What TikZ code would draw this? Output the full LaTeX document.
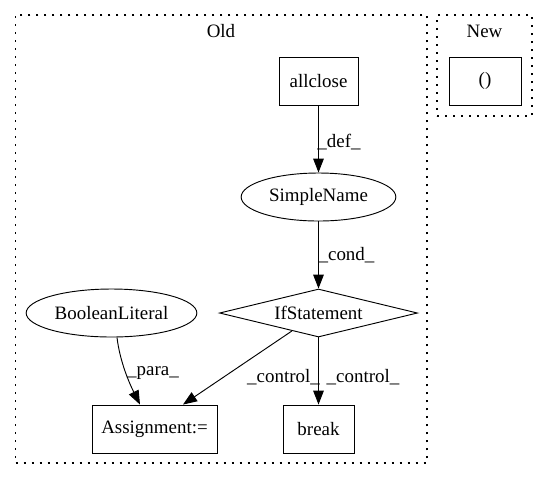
\documentclass[tikz,border=0pt]{standalone}
\usepackage{fontspec}
\setmainfont{Liberation Serif}
\usetikzlibrary{shapes.geometric,arrows.meta,calc}
\begin{document}
\begin{tikzpicture}[x=0.75pt,y=-0.75pt,
  every node/.style={font=\fontsize{14.2pt}{16pt}\selectfont},
  rect/.style={draw, line width=0.7pt, rectangle, inner sep=0pt, minimum height=36pt},
  ell/.style={draw, line width=0.7pt, ellipse, inner sep=0pt, minimum height=36pt},
  dia/.style={draw, line width=0.7pt, diamond, shape aspect=4.125, inner sep=0pt, minimum width=148.5pt, minimum height=36pt},
  arr/.style={line width=0.7pt, -{Triangle[length=10.5pt,width=8pt]}},
  lab/.style={inner sep=0pt},
  clus/.style={draw, line width=0.8pt, dash pattern=on 1.4pt off 4.6pt, rectangle, inner sep=0pt}
]
\useasboundingbox (0,0) rectangle (548,480);
% clusters
\node[clus, minimum width=308.5pt, minimum height=336pt] (old) at (221.35,239) {};
\node[clus, minimum width=71.25pt, minimum height=75.75pt] (new) at (484.5,65.5) {};
\node[lab] (oldlab) at (221,31) {Old};
\node[lab] (newlab) at (484.5,31) {New};
% nodes
\node[rect, minimum width=59.25pt] (allclose) at (318.5,81) {allclose};
\node[rect, minimum width=54pt] (paren) at (485,81) {()};
\node[ell, minimum width=116pt] (simple) at (318.5,197) {SimpleName};
\node[dia] (ifs) at (318.5,313) {IfStatement};
\node[ell, minimum width=128pt] (bool) at (111.5,313) {BooleanLiteral};
\node[rect, minimum width=93.75pt] (asg) at (154.5,429) {Assignment:=};
\node[rect, minimum width=53.25pt] (brk) at (318.5,429) {break};
% edges
\draw[arr] (allclose) -- (simple);
\draw[arr] (simple) -- (ifs);
\draw[arr] (ifs) -- (brk);
\draw[arr] (ifs) -- ($(asg.north)+(28.5,0)$);
\draw[arr] ($(bool.south)+(5.5,0)$) .. controls ($(bool.south)+(8.5,25)$) and ($(asg.north)+(-24.5,-20)$) .. ($(asg.north)+(-14.5,0)$);
% edge labels
\node[lab] (ldef) at (339,142) {\_def\_};
\node[lab] (lcond) at (346.5,255) {\_cond\_};
\node[lab] (lpara) at (153,373) {\_para\_};
\node[lab] (lctl1) at (283.5,377) {\_control\_};
\node[lab] (lctl2) at (363,377) {\_control\_};
\end{tikzpicture}
\end{document}
